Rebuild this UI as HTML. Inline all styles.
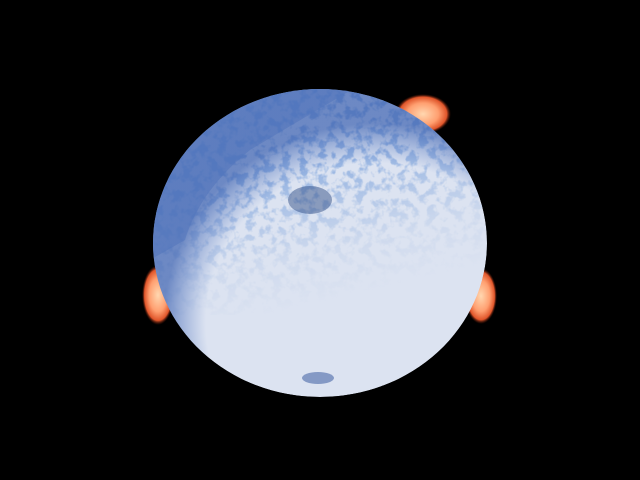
<!DOCTYPE html>
<html>
<head>
<meta charset="utf-8">
<style>
  html,body{margin:0;padding:0;background:#000;}
  svg{display:block;}
</style>
</head>
<body>
<svg width="640" height="480" viewBox="0 0 640 480">
  <defs>
    <clipPath id="disc"><ellipse cx="320" cy="243" rx="167" ry="154"/></clipPath>
    <radialGradient id="flare" cx="50%" cy="50%" r="50%">
      <stop offset="0%" stop-color="#ffd7b0"/>
      <stop offset="55%" stop-color="#ff9f70"/>
      <stop offset="85%" stop-color="#e0552a"/>
      <stop offset="100%" stop-color="#5a1505" stop-opacity="0"/>
    </radialGradient>
    <linearGradient id="fade" x1="0" y1="0" x2="0.35" y2="1">
      <stop offset="0%" stop-color="#fff" stop-opacity="1"/>
      <stop offset="45%" stop-color="#fff" stop-opacity="0.8"/>
      <stop offset="80%" stop-color="#fff" stop-opacity="0.15"/>
      <stop offset="100%" stop-color="#fff" stop-opacity="0"/>
    </linearGradient>
    <mask id="texmask"><rect x="150" y="85" width="340" height="230" fill="url(#fade)"/></mask>
    <radialGradient id="limb" cx="66%" cy="74%" r="62%">
      <stop offset="80%" stop-color="#4f74c0" stop-opacity="0"/>
      <stop offset="100%" stop-color="#3d62b0" stop-opacity="0.7"/>
    </radialGradient>
    <filter id="rough"><feTurbulence type="fractalNoise" baseFrequency="0.11" numOctaves="3" seed="5"/>
      <feColorMatrix values="0 0 0 0 0.22  0 0 0 0 0.38  0 0 0 0 0.72  0 0 0 -5 2.7"/></filter>
  </defs>
  <rect width="640" height="480" fill="#000"/>
  <ellipse cx="423" cy="114" rx="28" ry="20" fill="url(#flare)"/>
  <ellipse cx="158" cy="295" rx="16" ry="30" fill="url(#flare)"/>
  <ellipse cx="481" cy="296" rx="16" ry="28" fill="url(#flare)"/>
  <g clip-path="url(#disc)">
    <ellipse cx="320" cy="243" rx="167" ry="154" fill="#dce3f1"/>
    <path d="M150 85 L360 85 Q300 120 250 150 Q200 190 185 240 L150 260 Z" fill="#6a8dd0" opacity="0.45"/>
    <g mask="url(#texmask)">
      <rect x="150" y="85" width="340" height="230" filter="url(#rough)"/>
    </g>
    <rect x="150" y="85" width="340" height="320" fill="url(#limb)"/>
    <ellipse cx="310" cy="200" rx="22" ry="14" fill="#24427f" opacity="0.45"/>
    <ellipse cx="318" cy="378" rx="16" ry="6" fill="#2c4f9a" opacity="0.5"/>
  </g>
</svg>
</body>
</html>
